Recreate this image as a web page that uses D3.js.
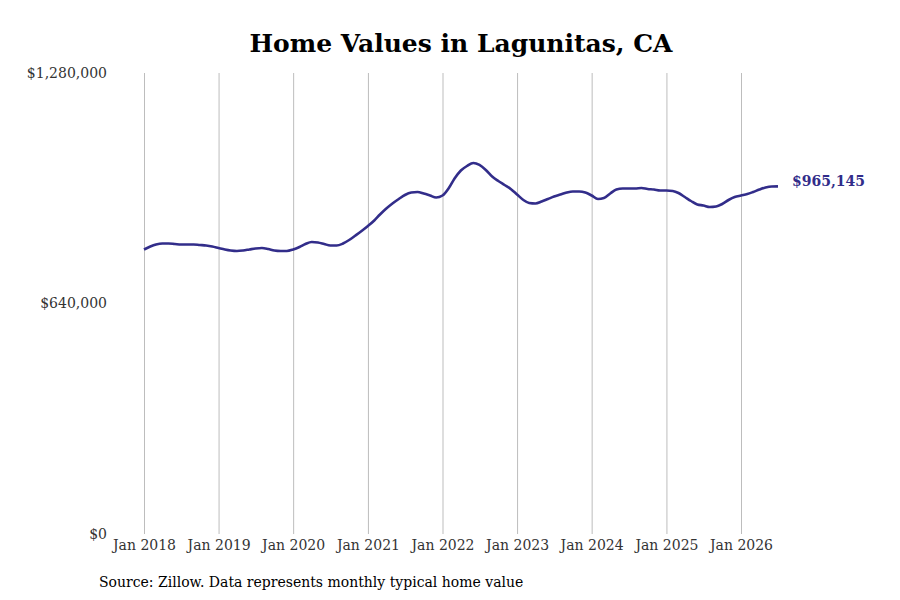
<!DOCTYPE html>
<html>

<head>
    <title>Home Values in Lagunitas, CA</title>
    <script src="https://d3js.org/d3.v7.min.js"></script>
    <style>
        body { margin: 0; background: #fff; }
        text { font-family: "DejaVu Serif", serif; }
    </style>
</head>

<body>
    <svg width="900" height="600" id="mainsvg"></svg>
    <script>
        // monthly typical home value, Jan 2018 .. Jul 2026
        const startMonth = new Date(2018, 0, 1);
        const values = [
            790000, 798300, 803800, 806600, 806600, 805200, 803800, 803800, 803800, 802400, 801000, 798300,
            794100, 790000, 787200, 785800, 787200, 790000, 792700, 794100, 791300, 787200, 785800, 785800,
            790000, 796900, 805200, 810800, 809400, 805200, 801000, 801000, 806600, 816300, 828800, 841300,
            855200, 870500, 887100, 903800, 917700, 930200, 941300, 948200, 949600, 945400, 939900, 934300,
            939900, 960700, 987100, 1009300, 1021800, 1030100, 1024600, 1010700, 992600, 980100, 969000, 957900,
            942600, 927400, 919100, 917700, 923200, 930200, 937100, 942600, 948200, 951000, 951000, 948200,
            939900, 930200, 932900, 945400, 956500, 959300, 959300, 959300, 960700, 957900, 956500, 953800,
            953800, 952400, 946800, 935700, 924600, 914900, 912100, 907900, 909300, 916300, 927400, 935700,
            939900, 944000, 949600, 956500, 962100, 964900, 965145
        ];
        const yTicks = [0, 640000, 1280000];
        const xTickYears = [2018, 2019, 2020, 2021, 2022, 2023, 2024, 2025, 2026];
        const titleText = 'Home Values in Lagunitas, CA';
        const sourceText = 'Source: Zillow. Data represents monthly typical home value';

        const data = values.map((v, i) => ({
            date: new Date(startMonth.getFullYear(), startMonth.getMonth() + i, 1),
            value: v
        }));

        const svg = d3.select('#mainsvg');
        const lineColor = '#322d8a';

        const x = d3.scaleTime()
            .domain([new Date(2018, 0, 1), new Date(2026, 0, 1)])
            .range([144, 741]);
        const y = d3.scaleLinear()
            .domain([0, 1280000])
            .range([534, 73]);

        // vertical gridlines at each January
        const xAxis = d3.axisBottom(x)
            .tickValues(xTickYears.map(yr => new Date(yr, 0, 1)))
            .tickFormat(d3.timeFormat('Jan %Y'))
            .tickSize(-(534 - 73))
            .tickPadding(6);
        const gx = svg.append('g')
            .attr('transform', 'translate(0,534)')
            .call(xAxis);
        gx.select('.domain').remove();
        gx.selectAll('line').attr('stroke', '#bdbdbd').attr('stroke-width', 1);
        gx.selectAll('text')
            .attr('font-size', 14)
            .attr('fill', '#333')
            .style('font-family', '"DejaVu Serif", serif');

        const yAxis = d3.axisLeft(y)
            .tickValues(yTicks)
            .tickFormat(d => '$' + d3.format(',')(d))
            .tickSize(0)
            .tickPadding(0);
        const gy = svg.append('g')
            .attr('transform', 'translate(107,0)')
            .call(yAxis);
        gy.select('.domain').remove();
        gy.selectAll('text')
            .attr('font-size', 14)
            .attr('fill', '#333')
            .style('font-family', '"DejaVu Serif", serif');

        const line = d3.line()
            .x(d => x(d.date))
            .y(d => y(d.value))
            .curve(d3.curveMonotoneX);

        svg.append('path')
            .datum(data)
            .attr('fill', 'none')
            .attr('stroke', lineColor)
            .attr('stroke-width', 2.6)
            .attr('stroke-linejoin', 'round')
            .attr('d', line);

        const last = data[data.length - 1];
        svg.append('text')
            .attr('x', x(last.date) + 14)
            .attr('y', y(last.value))
            .attr('font-size', 14)
            .attr('font-weight', 'bold')
            .attr('fill', lineColor)
            .text('$' + d3.format(',')(last.value));

        svg.append('text')
            .attr('x', 461)
            .attr('y', 52)
            .attr('text-anchor', 'middle')
            .attr('font-size', 25)
            .attr('font-weight', 'bold')
            .attr('fill', '#000')
            .text(titleText);

        svg.append('text')
            .attr('x', 99)
            .attr('y', 587)
            .attr('font-size', 14)
            .attr('fill', '#000')
            .text(sourceText);
    </script>
</body>

</html>
